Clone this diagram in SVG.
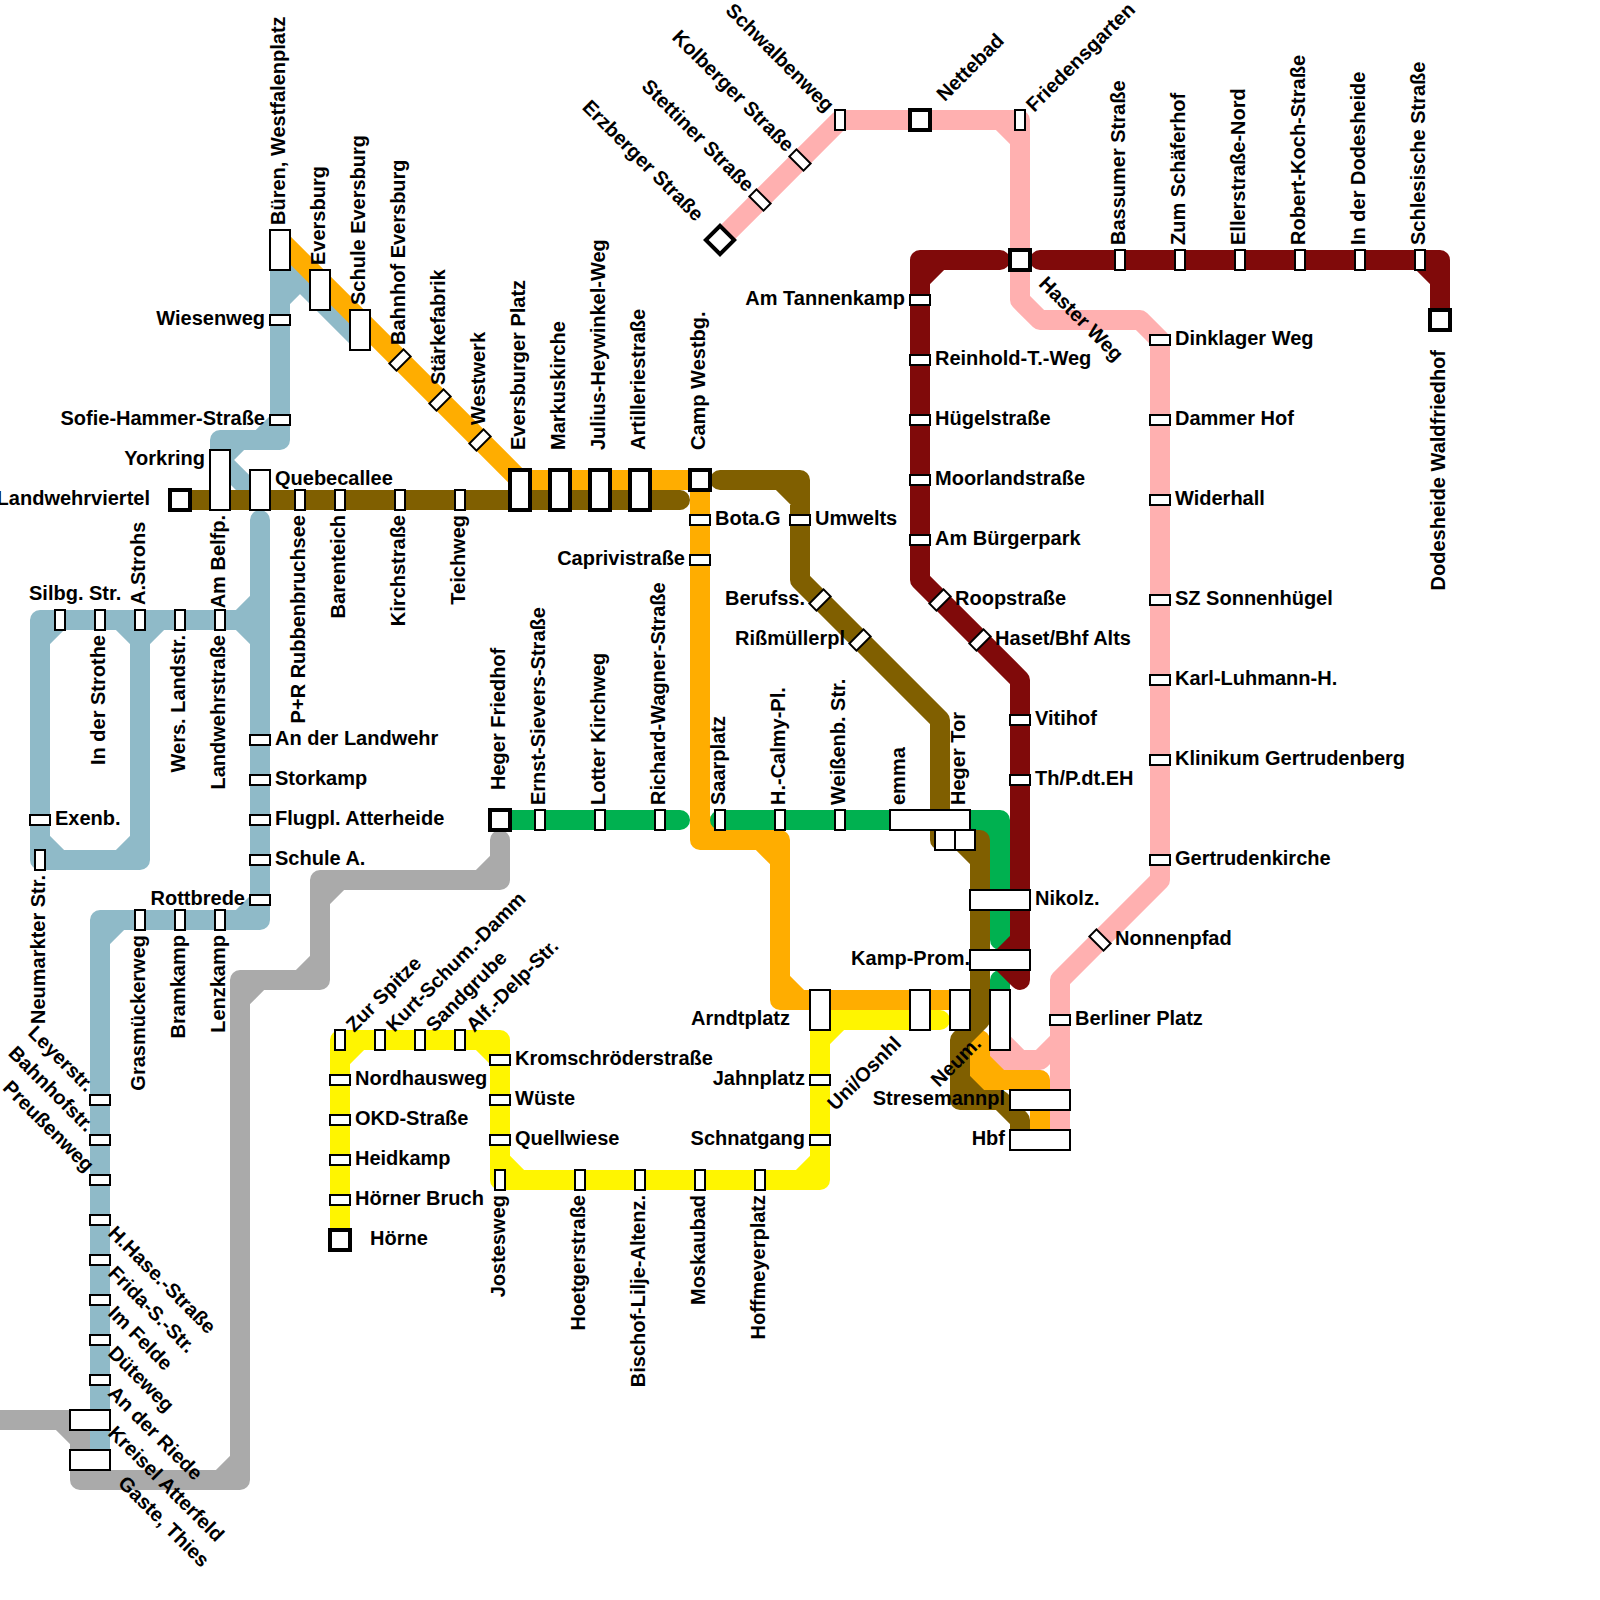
<svg xmlns="http://www.w3.org/2000/svg" width="1600" height="1600" viewBox="0 0 1600 1600">
<style>
.ln{fill:none;stroke-width:20;stroke-linecap:round;stroke-linejoin:round}
.s{fill:#fff;stroke:#000;stroke-width:2}
.k{fill:#fff;stroke:#000;stroke-width:4}
text{font-family:"Liberation Sans",Arial,sans-serif;font-weight:700;font-size:20px;fill:#000}
.e{text-anchor:end}
</style>
<rect width="1600" height="1600" fill="#fff"/>
<g id="connectors">
<path id="line-gray" class="ln" stroke="#aaaaaa" d="M0,1420H80V1480H240V980H320V880H500V840M60,1420L80,1440M80,1460L100,1480M220,1480L240,1460M240,1000L260,980M300,980L320,960M320,900L340,880M480,880L500,860"/>
<path id="line-blue" class="ln" stroke="#8fbac8" d="M280,250V440H220V460L260,500M280,420L260,440M240,440L220,460M280,300L300,280M280,260L360,340M260,520V920H100V1450M240,920L260,900M120,920L100,940M260,620H40V860H140V620M240,620L260,600M240,620L260,640M60,620L40,640M120,620L140,640M160,620L140,640M40,840L60,860M140,840L120,860"/>
<path id="line-pink" class="ln" stroke="#ffb0b0" d="M720,240L840,120H1020V300L1040,320H1140L1160,340V880L1060,980V1130M1000,120L1020,140M1000,1040V1060L1020,1080H1040M1000,1040L1020,1060H1040L1060,1040"/>
<path id="line-yellow" class="ln" stroke="#fff500" d="M340,1240V1040H500V1180H820V1020H940M340,1060L360,1040M480,1040L500,1060M500,1160L520,1180M800,1180L820,1160M820,1040L840,1020"/>
<path id="line-orange" class="ln" stroke="#ffad00" d="M280,240L520,480H700V840H780V1000H960M700,820L720,840M760,840L780,860M780,980L800,1000M980,1040V1080H1040V1130M980,1060L1000,1080"/>
<path id="line-green" class="ln" stroke="#00b150" d="M500,820H680M720,820H1000V940M1000,980V1020M980,820L1000,840"/>
<path id="line-red" class="ln" stroke="#800a0a" d="M1000,260H920V580L1020,680V980M1020,940L1000,960L1020,980M940,260L920,280M1040,260H1440V320M1420,260L1440,280"/>
<path id="line-brown" class="ln" stroke="#805f00" d="M180,500H680M720,480H800V580L940,720V840H980V1020L960,1040V1100H1000L1020,1120V1130M780,480L800,500M960,840L980,860M960,1080L980,1100"/>
</g>
<g id="stations">
<g id="n01"><rect class="s" x="270" y="230" width="20" height="40"/><text x="295" y="245" transform="rotate(-90 280 240)">Büren, Westfalenplatz</text></g>
<g id="n02"><rect class="s" x="310" y="270" width="20" height="40"/><text x="335" y="285" transform="rotate(-90 320 280)">Eversburg</text></g>
<g id="n03"><rect class="s" x="350" y="310" width="20" height="40"/><text x="375" y="325" transform="rotate(-90 360 320)">Schule Eversburg</text></g>
<g id="n04"><rect class="s" x="390" y="355" width="20" height="10" transform="rotate(-45 400 360)"/><text x="415" y="365" transform="rotate(-90 400 360)">Bahnhof Eversburg</text></g>
<g id="n05"><rect class="s" x="430" y="395" width="20" height="10" transform="rotate(-45 440 400)"/><text x="455" y="405" transform="rotate(-90 440 400)">Stärkefabrik</text></g>
<g id="n06"><rect class="s" x="470" y="435" width="20" height="10" transform="rotate(-45 480 440)"/><text x="495" y="445" transform="rotate(-90 480 440)">Westwerk</text></g>
<g id="n07"><rect class="s" x="270" y="315" width="20" height="10"/><text class="e" x="265" y="325">Wiesenweg</text></g>
<g id="n08"><rect class="s" x="270" y="415" width="20" height="10"/><text class="e" x="265" y="425">Sofie-Hammer-Straße</text></g>
<g id="n09"><rect class="s" x="210" y="450" width="20" height="60"/><text class="e" x="205" y="465">Yorkring</text><text class="e" x="205" y="505" transform="rotate(-90 220 500)">Am Belfp.</text></g>
<g id="n10"><rect class="k" x="170" y="490" width="20" height="20"/><text class="e" x="150" y="505">Landwehrviertel</text></g>
<g id="n11"><rect class="s" x="250" y="470" width="20" height="40"/><text x="275" y="485">Quebecallee</text></g>
<g id="n12"><rect class="s" x="295" y="490" width="10" height="20"/><text class="e" x="285" y="505" transform="rotate(-90 300 500)">P+R Rubbenbruchsee</text></g>
<g id="n13"><rect class="s" x="335" y="490" width="10" height="20"/><text class="e" x="325" y="505" transform="rotate(-90 340 500)">Barenteich</text></g>
<g id="n14"><rect class="s" x="395" y="490" width="10" height="20"/><text class="e" x="385" y="505" transform="rotate(-90 400 500)">Kirchstraße</text></g>
<g id="n15"><rect class="s" x="455" y="490" width="10" height="20"/><text class="e" x="445" y="505" transform="rotate(-90 460 500)">Teichweg</text></g>
<g id="n16"><rect class="k" x="510" y="470" width="20" height="40"/><text x="550" y="485" transform="rotate(-90 520 480)">Eversburger Platz</text></g>
<g id="n17"><rect class="k" x="550" y="470" width="20" height="40"/><text x="590" y="485" transform="rotate(-90 560 480)">Markuskirche</text></g>
<g id="n18"><rect class="k" x="590" y="470" width="20" height="40"/><text x="630" y="485" transform="rotate(-90 600 480)">Julius-Heywinkel-Weg</text></g>
<g id="n19"><rect class="k" x="630" y="470" width="20" height="40"/><text x="670" y="485" transform="rotate(-90 640 480)">Artilleriestraße</text></g>
<g id="n20"><rect class="k" x="690" y="470" width="20" height="20"/><text x="730" y="485" transform="rotate(-90 700 480)">Camp Westbg.</text></g>
<g id="n21"><rect class="s" x="690" y="515" width="20" height="10"/><text x="715" y="525">Bota.G</text></g>
<g id="n22"><rect class="s" x="690" y="555" width="20" height="10"/><text class="e" x="685" y="565">Caprivistraße</text></g>
<g id="n23"><rect class="s" x="790" y="515" width="20" height="10"/><text x="815" y="525">Umwelts</text></g>
<g id="n24"><rect class="s" x="810" y="595" width="20" height="10" transform="rotate(-45 820 600)"/><text class="e" x="805" y="605">Berufss.</text></g>
<g id="n25"><rect class="s" x="850" y="635" width="20" height="10" transform="rotate(-45 860 640)"/><text class="e" x="845" y="645">Rißmüllerpl</text></g>
<g id="n26"><rect class="s" x="55" y="610" width="10" height="20"/><text x="29" y="600">Silbg. Str.</text></g>
<g id="n27"><rect class="s" x="95" y="610" width="10" height="20"/><text class="e" x="85" y="625" transform="rotate(-90 100 620)">In der Strothe</text></g>
<g id="n28"><rect class="s" x="135" y="610" width="10" height="20"/><text x="155" y="625" transform="rotate(-90 140 620)">A.Strohs</text></g>
<g id="n29"><rect class="s" x="175" y="610" width="10" height="20"/><text class="e" x="165" y="625" transform="rotate(-90 180 620)">Wers. Landstr.</text></g>
<g id="n30"><rect class="s" x="215" y="610" width="10" height="20"/><text class="e" x="205" y="625" transform="rotate(-90 220 620)">Landwehrstraße</text></g>
<g id="n31"><rect class="s" x="30" y="815" width="20" height="10"/><text x="55" y="825">Exenb.</text></g>
<g id="n32"><rect class="s" x="35" y="850" width="10" height="20"/><text class="e" x="25" y="865" transform="rotate(-90 40 860)">Neumarkter Str.</text></g>
<g id="n33"><rect class="s" x="250" y="735" width="20" height="10"/><text x="275" y="745">An der Landwehr</text></g>
<g id="n34"><rect class="s" x="250" y="775" width="20" height="10"/><text x="275" y="785">Storkamp</text></g>
<g id="n35"><rect class="s" x="250" y="815" width="20" height="10"/><text x="275" y="825">Flugpl. Atterheide</text></g>
<g id="n36"><rect class="s" x="250" y="855" width="20" height="10"/><text x="275" y="865">Schule A.</text></g>
<g id="n37"><rect class="s" x="250" y="895" width="20" height="10"/><text class="e" x="245" y="905">Rottbrede</text></g>
<g id="n38"><rect class="s" x="135" y="910" width="10" height="20"/><text class="e" x="125" y="925" transform="rotate(-90 140 920)">Grasmückerweg</text></g>
<g id="n39"><rect class="s" x="175" y="910" width="10" height="20"/><text class="e" x="165" y="925" transform="rotate(-90 180 920)">Bramkamp</text></g>
<g id="n40"><rect class="s" x="215" y="910" width="10" height="20"/><text class="e" x="205" y="925" transform="rotate(-90 220 920)">Lenzkamp</text></g>
<g id="n41"><rect class="s" x="90" y="1095" width="20" height="10"/><text class="e" x="85" y="1105" transform="rotate(45 100 1100)">Leyerstr.</text></g>
<g id="n42"><rect class="s" x="90" y="1135" width="20" height="10"/><text class="e" x="85" y="1145" transform="rotate(45 100 1140)">Bahnhofstr.</text></g>
<g id="n43"><rect class="s" x="90" y="1175" width="20" height="10"/><text class="e" x="85" y="1185" transform="rotate(45 100 1180)">Preußenweg</text></g>
<g id="n44"><rect class="s" x="90" y="1215" width="20" height="10"/><text x="115" y="1225" transform="rotate(45 100 1220)">H.Hase.-Straße</text></g>
<g id="n45"><rect class="s" x="90" y="1255" width="20" height="10"/><text x="115" y="1265" transform="rotate(45 100 1260)">Frida-S.-Str.</text></g>
<g id="n46"><rect class="s" x="90" y="1295" width="20" height="10"/><text x="115" y="1305" transform="rotate(45 100 1300)">Im Felde</text></g>
<g id="n47"><rect class="s" x="90" y="1335" width="20" height="10"/><text x="115" y="1345" transform="rotate(45 100 1340)">Düteweg</text></g>
<g id="n48"><rect class="s" x="90" y="1375" width="20" height="10"/><text x="115" y="1385" transform="rotate(45 100 1380)">An der Riede</text></g>
<g id="n49"><rect class="s" x="70" y="1410" width="40" height="20"/><text x="115" y="1425" transform="rotate(45 100 1420)">Kreisel Atterfeld</text></g>
<g id="n50"><rect class="s" x="70" y="1450" width="40" height="20"/><text x="125" y="1475" transform="rotate(45 110 1470)">Gaste, Thies</text></g>
<g id="n51"><rect class="k" x="490" y="810" width="20" height="20"/><text x="530" y="825" transform="rotate(-90 500 820)">Heger Friedhof</text></g>
<g id="n52"><rect class="s" x="535" y="810" width="10" height="20"/><text x="555" y="825" transform="rotate(-90 540 820)">Ernst-Sievers-Straße</text></g>
<g id="n53"><rect class="s" x="595" y="810" width="10" height="20"/><text x="615" y="825" transform="rotate(-90 600 820)">Lotter Kirchweg</text></g>
<g id="n54"><rect class="s" x="655" y="810" width="10" height="20"/><text x="675" y="825" transform="rotate(-90 660 820)">Richard-Wagner-Straße</text></g>
<g id="n55"><rect class="s" x="715" y="810" width="10" height="20"/><text x="735" y="825" transform="rotate(-90 720 820)">Saarplatz</text></g>
<g id="n56"><rect class="s" x="775" y="810" width="10" height="20"/><text x="795" y="825" transform="rotate(-90 780 820)">H.-Calmy-Pl.</text></g>
<g id="n57"><rect class="s" x="835" y="810" width="10" height="20"/><text x="855" y="825" transform="rotate(-90 840 820)">Weißenb. Str.</text></g>
<g id="n58"><rect class="s" x="890" y="810" width="80" height="20"/><text x="915" y="825" transform="rotate(-90 900 820)">emma</text></g>
<g id="n59"><rect class="s" x="935" y="830" width="20" height="20"/><rect class="s" x="955" y="830" width="20" height="20"/><text x="975" y="825" transform="rotate(-90 960 820)">Heger Tor</text></g>
<g id="n60"><rect class="s" x="970" y="890" width="60" height="20"/><text x="1035" y="905">Nikolz.</text></g>
<g id="n61"><rect class="s" x="970" y="950" width="60" height="20"/><text class="e" x="970" y="965">Kamp-Prom.</text></g>
<g id="n62"><rect class="s" x="810" y="990" width="20" height="40"/><text class="e" x="790" y="1025">Arndtplatz</text></g>
<g id="n63"><rect class="s" x="910" y="990" width="20" height="40"/><text class="e" x="890" y="1025" transform="rotate(-45 920 1020)">Uni/Osnhl</text></g>
<g id="n64"><rect class="s" x="950" y="990" width="20" height="40"/></g>
<g id="n65"><rect class="s" x="990" y="990" width="20" height="60"/><text class="e" x="970" y="1025" transform="rotate(-45 1000 1020)">Neum.</text></g>
<g id="n66"><rect class="s" x="1010" y="1090" width="60" height="20"/><text class="e" x="1005" y="1105">Stresemannpl</text></g>
<g id="n67"><rect class="s" x="1010" y="1130" width="60" height="20"/><text class="e" x="1005" y="1145">Hbf</text></g>
<g id="n68"><rect class="s" x="335" y="1030" width="10" height="20"/><text x="355" y="1045" transform="rotate(-45 340 1040)">Zur Spitze</text></g>
<g id="n69"><rect class="s" x="375" y="1030" width="10" height="20"/><text x="395" y="1045" transform="rotate(-45 380 1040)">Kurt-Schum.-Damm</text></g>
<g id="n70"><rect class="s" x="415" y="1030" width="10" height="20"/><text x="435" y="1045" transform="rotate(-45 420 1040)">Sandgrube</text></g>
<g id="n71"><rect class="s" x="455" y="1030" width="10" height="20"/><text x="475" y="1045" transform="rotate(-45 460 1040)">Alf.-Delp-Str.</text></g>
<g id="n72"><rect class="s" x="330" y="1075" width="20" height="10"/><text x="355" y="1085">Nordhausweg</text></g>
<g id="n73"><rect class="s" x="330" y="1115" width="20" height="10"/><text x="355" y="1125">OKD-Straße</text></g>
<g id="n74"><rect class="s" x="330" y="1155" width="20" height="10"/><text x="355" y="1165">Heidkamp</text></g>
<g id="n75"><rect class="s" x="330" y="1195" width="20" height="10"/><text x="355" y="1205">Hörner Bruch</text></g>
<g id="n76"><rect class="k" x="330" y="1230" width="20" height="20"/><text x="370" y="1245">Hörne</text></g>
<g id="n77"><rect class="s" x="490" y="1055" width="20" height="10"/><text x="515" y="1065">Kromschröderstraße</text></g>
<g id="n78"><rect class="s" x="490" y="1095" width="20" height="10"/><text x="515" y="1105">Wüste</text></g>
<g id="n79"><rect class="s" x="490" y="1135" width="20" height="10"/><text x="515" y="1145">Quellwiese</text></g>
<g id="n80"><rect class="s" x="495" y="1170" width="10" height="20"/><text class="e" x="485" y="1185" transform="rotate(-90 500 1180)">Jostesweg</text></g>
<g id="n81"><rect class="s" x="575" y="1170" width="10" height="20"/><text class="e" x="565" y="1185" transform="rotate(-90 580 1180)">Hoetgerstraße</text></g>
<g id="n82"><rect class="s" x="635" y="1170" width="10" height="20"/><text class="e" x="625" y="1185" transform="rotate(-90 640 1180)">Bischof-Lilje-Altenz.</text></g>
<g id="n83"><rect class="s" x="695" y="1170" width="10" height="20"/><text class="e" x="685" y="1185" transform="rotate(-90 700 1180)">Moskaubad</text></g>
<g id="n84"><rect class="s" x="755" y="1170" width="10" height="20"/><text class="e" x="745" y="1185" transform="rotate(-90 760 1180)">Hoffmeyerplatz</text></g>
<g id="n85"><rect class="s" x="810" y="1135" width="20" height="10"/><text class="e" x="805" y="1145">Schnatgang</text></g>
<g id="n86"><rect class="s" x="810" y="1075" width="20" height="10"/><text class="e" x="805" y="1085">Jahnplatz</text></g>
<g id="n87"><rect class="k" x="710" y="230" width="20" height="20" transform="rotate(45 720 240)"/><text class="e" x="690" y="245" transform="rotate(45 720 240)">Erzberger Straße</text></g>
<g id="n88"><rect class="s" x="750" y="195" width="20" height="10" transform="rotate(45 760 200)"/><text class="e" x="745" y="205" transform="rotate(45 760 200)">Stettiner Straße</text></g>
<g id="n89"><rect class="s" x="790" y="155" width="20" height="10" transform="rotate(45 800 160)"/><text class="e" x="785" y="165" transform="rotate(45 800 160)">Kolberger Straße</text></g>
<g id="n90"><rect class="s" x="835" y="110" width="10" height="20"/><text class="e" x="825" y="125" transform="rotate(45 840 120)">Schwalbenweg</text></g>
<g id="n91"><rect class="k" x="910" y="110" width="20" height="20"/><text x="950" y="125" transform="rotate(-45 920 120)">Nettebad</text></g>
<g id="n92"><rect class="s" x="1015" y="110" width="10" height="20"/><text x="1035" y="125" transform="rotate(-45 1020 120)">Friedensgarten</text></g>
<g id="n93"><rect class="k" x="1010" y="250" width="20" height="20"/><text x="1050" y="265" transform="rotate(45 1020 260)">Haster Weg</text></g>
<g id="n94"><rect class="s" x="1150" y="335" width="20" height="10"/><text x="1175" y="345">Dinklager Weg</text></g>
<g id="n95"><rect class="s" x="1150" y="415" width="20" height="10"/><text x="1175" y="425">Dammer Hof</text></g>
<g id="n96"><rect class="s" x="1150" y="495" width="20" height="10"/><text x="1175" y="505">Widerhall</text></g>
<g id="n97"><rect class="s" x="1150" y="595" width="20" height="10"/><text x="1175" y="605">SZ Sonnenhügel</text></g>
<g id="n98"><rect class="s" x="1150" y="675" width="20" height="10"/><text x="1175" y="685">Karl-Luhmann-H.</text></g>
<g id="n99"><rect class="s" x="1150" y="755" width="20" height="10"/><text x="1175" y="765">Klinikum Gertrudenberg</text></g>
<g id="n100"><rect class="s" x="1150" y="855" width="20" height="10"/><text x="1175" y="865">Gertrudenkirche</text></g>
<g id="n101"><rect class="s" x="1090" y="935" width="20" height="10" transform="rotate(45 1100 940)"/><text x="1115" y="945">Nonnenpfad</text></g>
<g id="n102"><rect class="s" x="1050" y="1015" width="20" height="10"/><text x="1075" y="1025">Berliner Platz</text></g>
<g id="n103"><rect class="s" x="910" y="295" width="20" height="10"/><text class="e" x="905" y="305">Am Tannenkamp</text></g>
<g id="n104"><rect class="s" x="910" y="355" width="20" height="10"/><text x="935" y="365">Reinhold-T.-Weg</text></g>
<g id="n105"><rect class="s" x="910" y="415" width="20" height="10"/><text x="935" y="425">Hügelstraße</text></g>
<g id="n106"><rect class="s" x="910" y="475" width="20" height="10"/><text x="935" y="485">Moorlandstraße</text></g>
<g id="n107"><rect class="s" x="910" y="535" width="20" height="10"/><text x="935" y="545">Am Bürgerpark</text></g>
<g id="n108"><rect class="s" x="930" y="595" width="20" height="10" transform="rotate(-45 940 600)"/><text x="955" y="605">Roopstraße</text></g>
<g id="n109"><rect class="s" x="970" y="635" width="20" height="10" transform="rotate(-45 980 640)"/><text x="995" y="645">Haset/Bhf Alts</text></g>
<g id="n110"><rect class="s" x="1010" y="715" width="20" height="10"/><text x="1035" y="725">Vitihof</text></g>
<g id="n111"><rect class="s" x="1010" y="775" width="20" height="10"/><text x="1035" y="785">Th/P.dt.EH</text></g>
<g id="n112"><rect class="s" x="1115" y="250" width="10" height="20"/><text x="1135" y="265" transform="rotate(-90 1120 260)">Bassumer Straße</text></g>
<g id="n113"><rect class="s" x="1175" y="250" width="10" height="20"/><text x="1195" y="265" transform="rotate(-90 1180 260)">Zum Schäferhof</text></g>
<g id="n114"><rect class="s" x="1235" y="250" width="10" height="20"/><text x="1255" y="265" transform="rotate(-90 1240 260)">Ellerstraße-Nord</text></g>
<g id="n115"><rect class="s" x="1295" y="250" width="10" height="20"/><text x="1315" y="265" transform="rotate(-90 1300 260)">Robert-Koch-Straße</text></g>
<g id="n116"><rect class="s" x="1355" y="250" width="10" height="20"/><text x="1375" y="265" transform="rotate(-90 1360 260)">In der Dodesheide</text></g>
<g id="n117"><rect class="s" x="1415" y="250" width="10" height="20"/><text x="1435" y="265" transform="rotate(-90 1420 260)">Schlesische Straße</text></g>
<g id="n118"><rect class="k" x="1430" y="310" width="20" height="20"/><text class="e" x="1410" y="325" transform="rotate(-90 1440 320)">Dodesheide Waldfriedhof</text></g>
</g>
</svg>
